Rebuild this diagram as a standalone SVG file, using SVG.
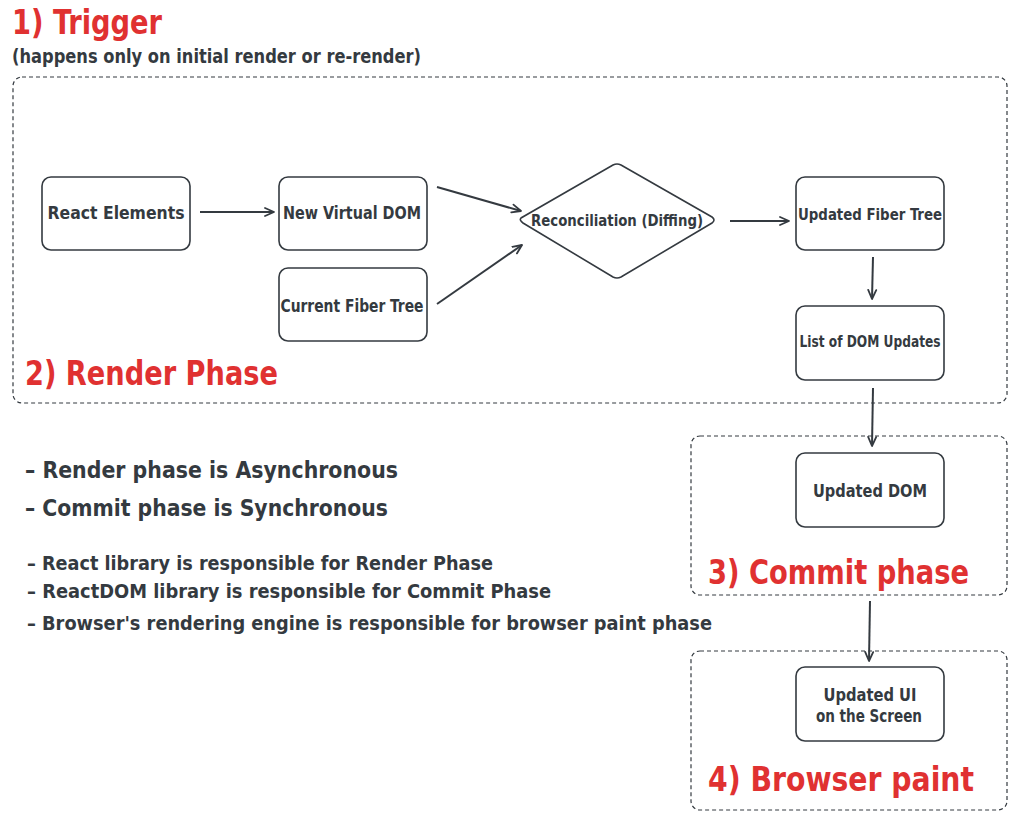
<svg xmlns="http://www.w3.org/2000/svg" width="1017" height="821" viewBox="0 0 1017 821">
<defs>
<marker id="ah" viewBox="0 0 12 12" refX="10" refY="6" markerWidth="12" markerHeight="12" markerUnits="userSpaceOnUse" orient="auto">
<path d="M1,2 L10,6 L1,10" fill="none" stroke="#343a40" stroke-width="1.8" stroke-linecap="round" stroke-linejoin="round"/>
</marker>
</defs>
<style>
text{font-family:"DejaVu Sans Condensed","DejaVu Sans","Liberation Sans",sans-serif;font-weight:bold;fill:#343a40}
.red{fill:#e03131}
.node{fill:#fff;stroke:#343a40;stroke-width:1.6}
.grp{fill:none;stroke:#343a40;stroke-width:1.2;stroke-dasharray:4 3}
.c{text-anchor:middle}
.conn line{stroke:#343a40;stroke-width:2;marker-end:url(#ah)}
</style>
<rect width="1017" height="821" fill="#fff"/>

<g id="titles">
<text class="red" x="12" y="34" font-size="34" textLength="150" lengthAdjust="spacingAndGlyphs">1) Trigger</text>
<text x="12" y="63" font-size="19" textLength="409" lengthAdjust="spacingAndGlyphs">(happens only on initial render or re-render)</text>
</g>

<g id="render-phase">
<rect class="grp" x="13" y="77" width="994" height="326" rx="9"/>
<text class="red" x="25" y="385" font-size="34" textLength="253" lengthAdjust="spacingAndGlyphs">2) Render Phase</text>
</g>
<g id="commit-phase">
<rect class="grp" x="691" y="436" width="316" height="159" rx="9"/>
<text class="red" x="708" y="584" font-size="34" textLength="261" lengthAdjust="spacingAndGlyphs">3) Commit phase</text>
</g>
<g id="browser-paint">
<rect class="grp" x="691" y="651" width="316" height="159" rx="9"/>
<text class="red" x="708" y="791" font-size="34" textLength="266" lengthAdjust="spacingAndGlyphs">4) Browser paint</text>
</g>

<g id="react-elements">
<rect class="node" x="42" y="177" width="148" height="73" rx="9"/>
<text class="c" x="116" y="219" font-size="18" textLength="137" lengthAdjust="spacingAndGlyphs">React Elements</text>
</g>
<g id="new-virtual-dom">
<rect class="node" x="279" y="177" width="148" height="73" rx="9"/>
<text class="c" x="352" y="219" font-size="18" textLength="138" lengthAdjust="spacingAndGlyphs">New Virtual DOM</text>
</g>
<g id="current-fiber-tree">
<rect class="node" x="279" y="268" width="148" height="73" rx="9"/>
<text class="c" x="352" y="312" font-size="18" textLength="143" lengthAdjust="spacingAndGlyphs">Current Fiber Tree</text>
</g>
<g id="reconciliation">
<path class="node" d="M521,218 Q519,220 523,223 L613,277 Q617,279 621,277 L712,223 Q716,220 712,217 L621,165 Q617,163 613,165 Z"/>
<text class="c" x="617" y="226" font-size="16" textLength="172" lengthAdjust="spacingAndGlyphs">Reconciliation (Diffing)</text>
</g>
<g id="updated-fiber-tree">
<rect class="node" x="796" y="177" width="148" height="73" rx="9"/>
<text class="c" x="870" y="220" font-size="16" textLength="144" lengthAdjust="spacingAndGlyphs">Updated Fiber Tree</text>
</g>
<g id="list-dom-updates">
<rect class="node" x="796" y="306" width="148" height="74" rx="9"/>
<text class="c" x="870" y="347" font-size="15" textLength="141" lengthAdjust="spacingAndGlyphs">List of DOM Updates</text>
</g>
<g id="updated-dom">
<rect class="node" x="796" y="453" width="148" height="74" rx="9"/>
<text class="c" x="870" y="497" font-size="17" textLength="114" lengthAdjust="spacingAndGlyphs">Updated DOM</text>
</g>
<g id="updated-ui">
<rect class="node" x="796" y="667" width="148" height="74" rx="9"/>
<text class="c" x="870" y="701" font-size="17" textLength="93" lengthAdjust="spacingAndGlyphs">Updated UI</text>
<text class="c" x="869" y="722" font-size="17" textLength="106" lengthAdjust="spacingAndGlyphs">on the Screen</text>
</g>

<g id="connectors" class="conn">
<line x1="200" y1="212" x2="274" y2="212"/>
<line x1="437" y1="187" x2="521" y2="211"/>
<line x1="437" y1="304" x2="522" y2="245"/>
<line x1="730" y1="221" x2="789" y2="221"/>
<line x1="873" y1="257" x2="872" y2="299"/>
<line x1="873" y1="388" x2="872" y2="446"/>
<line x1="870" y1="601" x2="869" y2="661"/>
</g>

<g id="notes">
<text x="25" y="478" font-size="23" textLength="373" lengthAdjust="spacingAndGlyphs">– Render phase is Asynchronous</text>
<text x="25" y="516" font-size="23" textLength="363" lengthAdjust="spacingAndGlyphs">– Commit phase is Synchronous</text>
<text x="27" y="570" font-size="19" textLength="466" lengthAdjust="spacingAndGlyphs">– React library is responsible for Render Phase</text>
<text x="27" y="598" font-size="19" textLength="524" lengthAdjust="spacingAndGlyphs">– ReactDOM library is responsible for Commit Phase</text>
<text x="27" y="630" font-size="19" textLength="685" lengthAdjust="spacingAndGlyphs">– Browser's rendering engine is responsible for browser paint phase</text>
</g>
</svg>
